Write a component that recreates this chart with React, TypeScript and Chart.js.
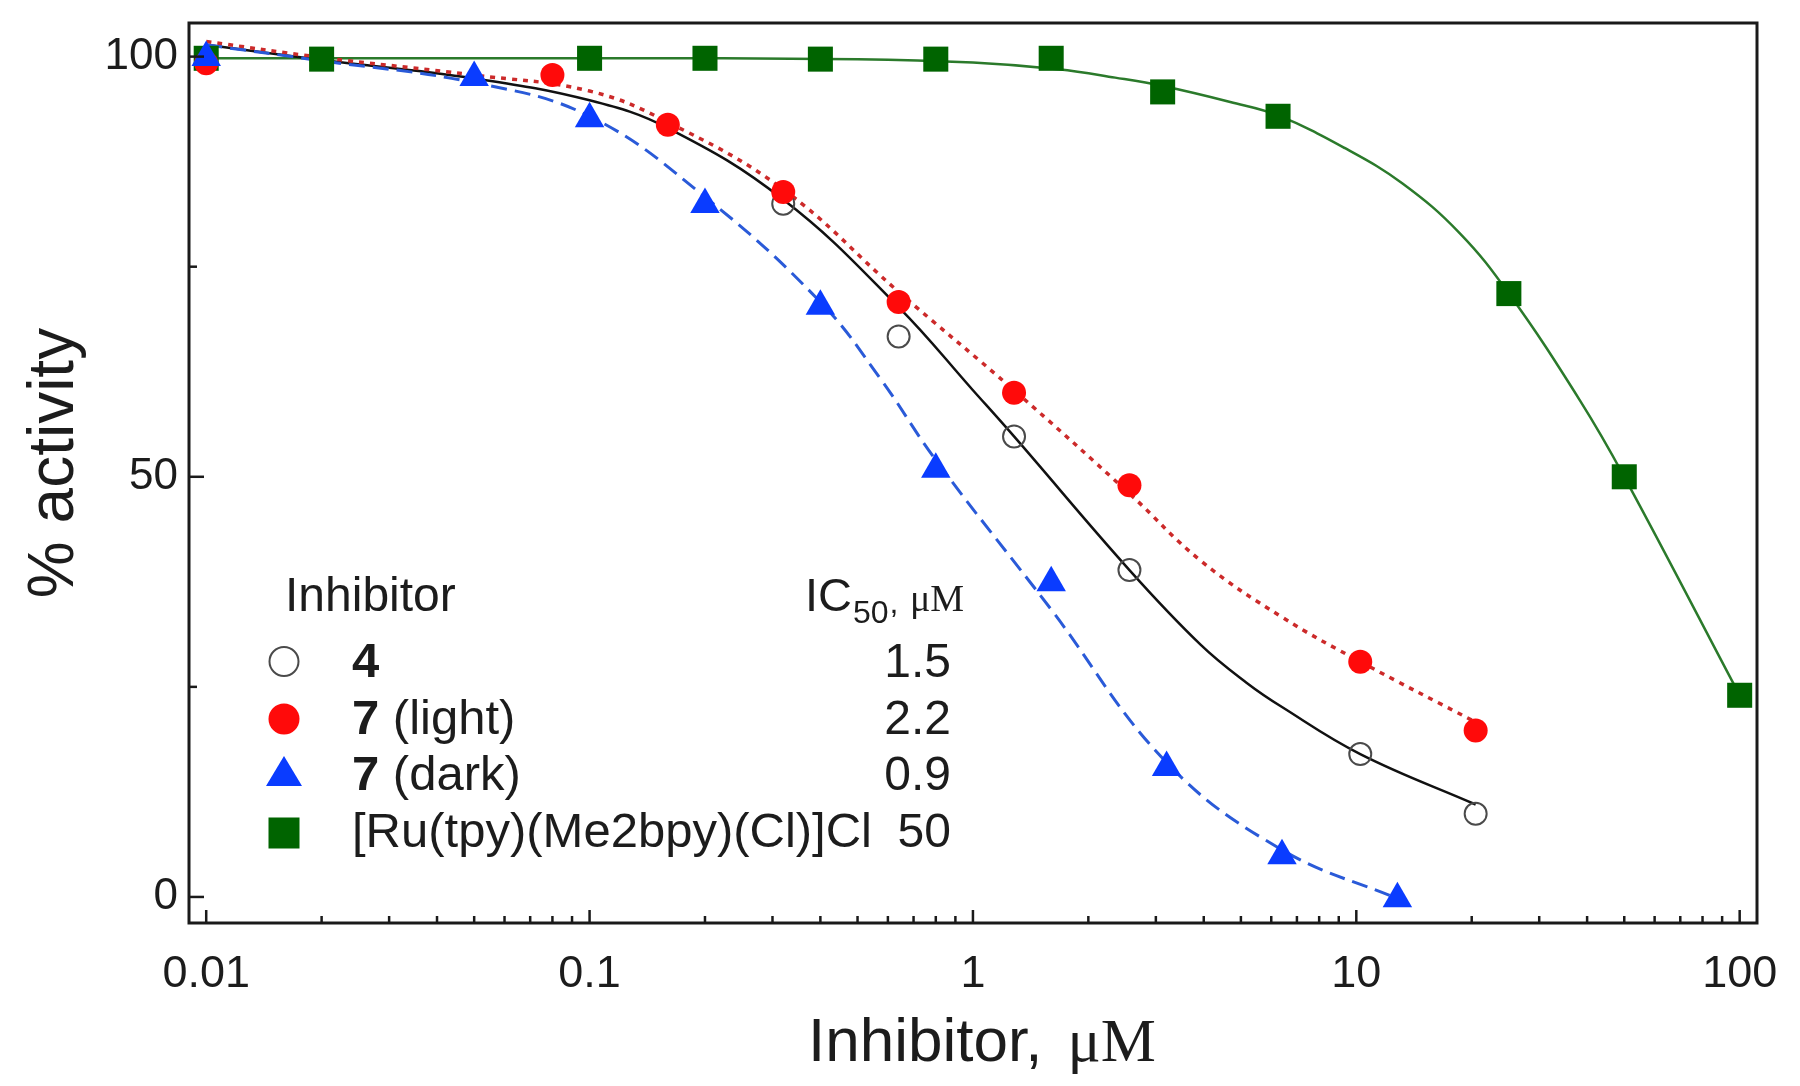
import React, { useEffect, useRef } from 'react';
import { Chart, registerables } from 'chart.js';

Chart.register(...registerables);

// ---------- data ----------
// measured points
const x4 = [0.32, 0.64, 1.28, 2.56, 10.24, 20.48];
const y4 = [82.5, 66.7, 54.8, 38.9, 17.0, 9.9];

const x7Light = [0.01, 0.08, 0.16, 0.32, 0.64, 1.28, 2.56, 10.24, 20.48];
const y7Light = [99.2, 97.8, 91.9, 83.9, 70.8, 60.0, 49.0, 28.0, 19.8];

const x7Dark = [0.01, 0.05, 0.1, 0.2, 0.4, 0.8, 1.6, 3.2, 6.4, 12.8];
const y7Dark = [99.9, 97.5, 92.6, 82.4, 70.3, 50.9, 37.4, 15.4, 4.9, -0.2];

const xRu = [0.01, 0.02, 0.1, 0.2, 0.4, 0.8, 1.6, 3.125, 6.25, 25, 50, 100];
const yRu = [99.8, 99.7, 99.8, 99.8, 99.7, 99.7, 99.8, 95.8, 92.9, 71.8, 50.0, 24.0];

// fitted curves (traced)
const fitX4 = [0.01, 0.02, 0.05, 0.1, 0.16, 0.32, 0.64, 1.0, 1.28, 2.56, 3.93, 5.17, 6.4, 10.24, 20.48];
const fitY4 = [101.4, 99.6, 97.4, 94.8, 91.5, 83.0, 70.2, 60.3, 54.8, 38.9, 30.0, 25.5, 22.6, 17.0, 11.0];

const fitX7Light = [0.01, 0.02, 0.05, 0.1, 0.16, 0.32, 0.64, 1.28, 2.56, 3.93, 6.4, 10.24, 20.48];
const fitY7Light = [101.8, 99.9, 97.8, 95.9, 92.2, 84.2, 72.0, 60.3, 48.0, 40.0, 33.3, 28.0, 20.8];

const fitX7Dark = [0.01, 0.02, 0.05, 0.1, 0.2, 0.4, 0.571, 0.8, 1.6, 3.2, 6.4, 12.8];
const fitY7Dark = [101.4, 99.5, 96.9, 92.9, 83.3, 70.8, 61.8, 52.0, 34.2, 16.0, 5.6, -0.2];

const fitXRu = [0.01, 0.1, 0.5, 1.0, 1.67, 2.35, 3.13, 4.69, 6.25, 9.35, 13.2, 18.6, 25, 38.3, 50, 100];
const fitYRu = [99.8, 99.8, 99.7, 99.3, 98.5, 97.5, 96.5, 94.6, 93.0, 89.1, 84.9, 79.0, 71.8, 59.1, 50.0, 24.0];

// axes
const xMajorValues = [0.01, 0.1, 1, 10, 100];
const xTickLabels = ['0.01', '0.1', '1', '10', '100'];
const xMinorMultipliers = [2, 3, 4, 5, 6, 7, 8, 9];
const yTickValues = [0, 25, 50, 75, 100];
const yMajorValues = [0, 50, 100];
const yTickLabels = ['0', '50', '100'];
const xMin = 0.009018;
const xMax = 110.97;
const yMin = -3.1;
const yMax = 104.0;

// legend
const legendBoldPart = ['4', '7', '7', ''];
const legendRestPart = ['', ' (light)', ' (dark)', '[Ru(tpy)(Me2bpy)(Cl)]Cl'];
const ic50Values = ['1.5', '2.2', '0.9', '50'];
const legendHeader = 'Inhibitor';
const xTitleMain = 'Inhibitor, ';
const unitText = '\u03BCM';
const yTitle = '% activity';

// ---------- styling ----------
const SANS = '"Liberation Sans", Arial, Helvetica, sans-serif';
const SERIF = '"Liberation Serif", "Times New Roman", serif';
const TEXT = '#1c1c1c';
const AXIS = '#1a1a1a';
const RED = '#ff0a0a';
const RED_LINE = '#cc2a2a';
const BLUE = '#0a3cff';
const BLUE_LINE = '#2a5ad8';
const GREEN = '#006400';
const GREEN_LINE = '#2b7a2b';
const GRAY = '#4a4a4a';

const pts = (xs: number[], ys: number[]) => xs.map((x, i) => ({ x, y: ys[i] }));

const xTickValues: number[] = (() => {
  const out: number[] = [];
  for (let d = 0; d < xMajorValues.length; d++) {
    out.push(xMajorValues[d]);
    if (d < xMajorValues.length - 1) {
      for (const m of xMinorMultipliers) out.push(+(m * xMajorValues[d]).toPrecision(6));
    }
  }
  return out;
})();

const isXMajor = (v: number) => xMajorValues.findIndex((m) => Math.abs(m - v) / m < 1e-6);

const decorPlugin = {
  id: 'decor',
  afterDraw(chart: any) {
    const { ctx, chartArea: ca, scales } = chart;
    const xs = scales.x;
    const ys = scales.y;
    ctx.save();

    // inward tick marks
    ctx.strokeStyle = AXIS;
    ctx.lineWidth = 2.5;
    for (const v of xTickValues) {
      const px = xs.getPixelForValue(v);
      const len = isXMajor(v) >= 0 ? 13 : 7;
      ctx.beginPath();
      ctx.moveTo(px, ca.bottom);
      ctx.lineTo(px, ca.bottom - len);
      ctx.stroke();
    }
    for (const v of yTickValues) {
      const py = ys.getPixelForValue(v);
      const len = yMajorValues.includes(v) ? 15 : 8;
      ctx.beginPath();
      ctx.moveTo(ca.left, py);
      ctx.lineTo(ca.left + len, py);
      ctx.stroke();
    }

    // frame
    ctx.lineWidth = 3;
    ctx.strokeRect(ca.left, ca.top, ca.right - ca.left, ca.bottom - ca.top);

    ctx.fillStyle = TEXT;
    ctx.textBaseline = 'alphabetic';

    // y title
    ctx.save();
    ctx.translate(73, 463);
    ctx.rotate(-Math.PI / 2);
    ctx.textAlign = 'center';
    ctx.font = `64px ${SANS}`;
    ctx.fillText(yTitle, 0, 0);
    ctx.restore();

    // x title
    ctx.textAlign = 'left';
    ctx.font = `62px ${SANS}`;
    const xt0 = 808;
    ctx.fillText(xTitleMain, xt0, 1061);
    const wMain = ctx.measureText(xTitleMain).width;
    ctx.font = `62px ${SERIF}`;
    ctx.fillText(unitText, xt0 + wMain + 8, 1061);

    // legend header
    ctx.font = `48px ${SANS}`;
    ctx.fillText(legendHeader, 285, 611);
    ctx.font = `47px ${SANS}`;
    ctx.fillText('IC', 805, 611);
    const wIC = ctx.measureText('IC').width;
    ctx.font = `32px ${SANS}`;
    ctx.fillText('50', 805 + wIC + 1, 623);
    const w50 = ctx.measureText('50').width;
    ctx.fillText(',', 805 + wIC + 2 + w50, 613);
    ctx.font = `38px ${SERIF}`;
    ctx.fillText(unitText, 910, 611);

    // legend rows
    const rowBase = [677, 733.5, 790, 846.5];
    const markY = [661.5, 719, 771, 833];
    const mx = 284;
    for (let i = 0; i < 4; i++) {
      let tx = 352;
      if (legendBoldPart[i]) {
        ctx.font = `bold 49px ${SANS}`;
        ctx.fillText(legendBoldPart[i], tx, rowBase[i]);
        tx += ctx.measureText(legendBoldPart[i]).width;
      }
      ctx.font = `49px ${SANS}`;
      ctx.fillText(legendRestPart[i], tx, rowBase[i]);
      ctx.textAlign = 'right';
      ctx.font = `48px ${SANS}`;
      ctx.fillText(ic50Values[i], 951, rowBase[i]);
      ctx.textAlign = 'left';
    }
    // legend markers
    ctx.beginPath();
    ctx.arc(mx, markY[0], 14.5, 0, Math.PI * 2);
    ctx.strokeStyle = GRAY;
    ctx.lineWidth = 2;
    ctx.stroke();

    ctx.beginPath();
    ctx.arc(mx, markY[1], 15.5, 0, Math.PI * 2);
    ctx.fillStyle = RED;
    ctx.fill();

    ctx.beginPath();
    ctx.moveTo(mx, markY[2] - 15);
    ctx.lineTo(mx + 18, markY[2] + 15);
    ctx.lineTo(mx - 18, markY[2] + 15);
    ctx.closePath();
    ctx.fillStyle = BLUE;
    ctx.fill();

    ctx.fillStyle = GREEN;
    ctx.fillRect(mx - 15.5, markY[3] - 15.5, 31, 31);

    ctx.restore();
  },
};

export default function App() {
  const ref = useRef<HTMLCanvasElement | null>(null);

  useEffect(() => {
    document.body.style.margin = '0';
    const canvas = ref.current;
    if (!canvas) return;

    const curveBase = {
      showLine: true,
      pointRadius: 0,
      pointHoverRadius: 0,
      fill: false,
      tension: 0.4,
    };

    const chart = new Chart(canvas, {
      type: 'line',
      data: {
        datasets: [
          {
            label: '7 (dark)',
            data: pts(x7Dark, y7Dark),
            showLine: false,
            pointStyle: 'triangle',
            pointRadius: 17,
            pointBackgroundColor: BLUE,
            pointBorderColor: BLUE,
            pointBorderWidth: 0,
            clip: false,
            order: 0,
          },
          {
            label: '7 (light)',
            data: pts(x7Light, y7Light),
            showLine: false,
            pointStyle: 'circle',
            pointRadius: 12,
            pointBackgroundColor: RED,
            pointBorderColor: RED,
            pointBorderWidth: 0,
            clip: false,
            order: 1,
          },
          {
            label: '4',
            data: pts(x4, y4),
            showLine: false,
            pointStyle: 'circle',
            pointRadius: 11,
            pointBackgroundColor: 'rgba(255,255,255,0)',
            pointBorderColor: GRAY,
            pointBorderWidth: 2,
            clip: false,
            order: 2,
          },
          {
            label: '[Ru(tpy)(Me2bpy)(Cl)]Cl',
            data: pts(xRu, yRu),
            showLine: false,
            pointStyle: 'rect',
            pointRadius: 17.7,
            pointBackgroundColor: GREEN,
            pointBorderColor: GREEN,
            pointBorderWidth: 0,
            clip: false,
            order: 3,
          },
          {
            ...curveBase,
            label: 'fit 7 (dark)',
            data: pts(fitX7Dark, fitY7Dark),
            borderColor: BLUE_LINE,
            borderWidth: 3,
            borderDash: [16, 8],
            order: 4,
          },
          {
            ...curveBase,
            label: 'fit 7 (light)',
            data: pts(fitX7Light, fitY7Light),
            borderColor: RED_LINE,
            borderWidth: 3.5,
            borderDash: [5, 6],
            order: 5,
          },
          {
            ...curveBase,
            label: 'fit 4',
            data: pts(fitX4, fitY4),
            borderColor: '#111111',
            borderWidth: 2.5,
            order: 6,
          },
          {
            ...curveBase,
            label: 'fit Ru',
            data: pts(fitXRu, fitYRu),
            borderColor: GREEN_LINE,
            borderWidth: 2.5,
            order: 7,
          },
        ] as any,
      },
      options: {
        animation: false,
        responsive: false,
        devicePixelRatio: 1,
        events: [],
        layout: { padding: { top: 23, right: 43, left: 0, bottom: 0 } },
        plugins: {
          legend: { display: false },
          tooltip: { enabled: false },
          title: { display: false },
        },
        scales: {
          x: {
            type: 'logarithmic',
            min: xMin,
            max: xMax,
            bounds: 'data',
            grid: { display: false, drawTicks: false },
            border: { display: false },
            afterBuildTicks: (scale: any) => {
              scale.ticks = xTickValues.map((v) => ({ value: v }));
            },
            afterFit: (scale: any) => {
              scale.height = 163;
              scale.paddingLeft = 0;
              scale.paddingRight = 0;
            },
            ticks: {
              autoSkip: false,
              maxRotation: 0,
              minRotation: 0,
              padding: 25,
              color: TEXT,
              font: { family: SANS, size: 45 },
              callback: (value: any) => {
                const i = isXMajor(Number(value));
                return i >= 0 ? xTickLabels[i] : '';
              },
            },
          },
          y: {
            type: 'linear',
            min: yMin,
            max: yMax,
            bounds: 'data',
            grid: { display: false, drawTicks: false },
            border: { display: false },
            afterBuildTicks: (scale: any) => {
              scale.ticks = yTickValues.map((v) => ({ value: v }));
            },
            afterFit: (scale: any) => {
              scale.width = 189;
              scale.paddingTop = 0;
              scale.paddingBottom = 0;
            },
            ticks: {
              autoSkip: false,
              padding: 11,
              color: TEXT,
              font: { family: SANS, size: 44 },
              callback: (value: any) => {
                const i = yMajorValues.indexOf(Number(value));
                return i >= 0 ? yTickLabels[i] : '';
              },
            },
          },
        },
      } as any,
      plugins: [decorPlugin],
    });

    return () => chart.destroy();
  }, []);

  return (
    <div style={{ width: 1800, height: 1086, background: '#ffffff' }}>
      <canvas ref={ref} width={1800} height={1086} style={{ display: 'block' }} />
    </div>
  );
}
